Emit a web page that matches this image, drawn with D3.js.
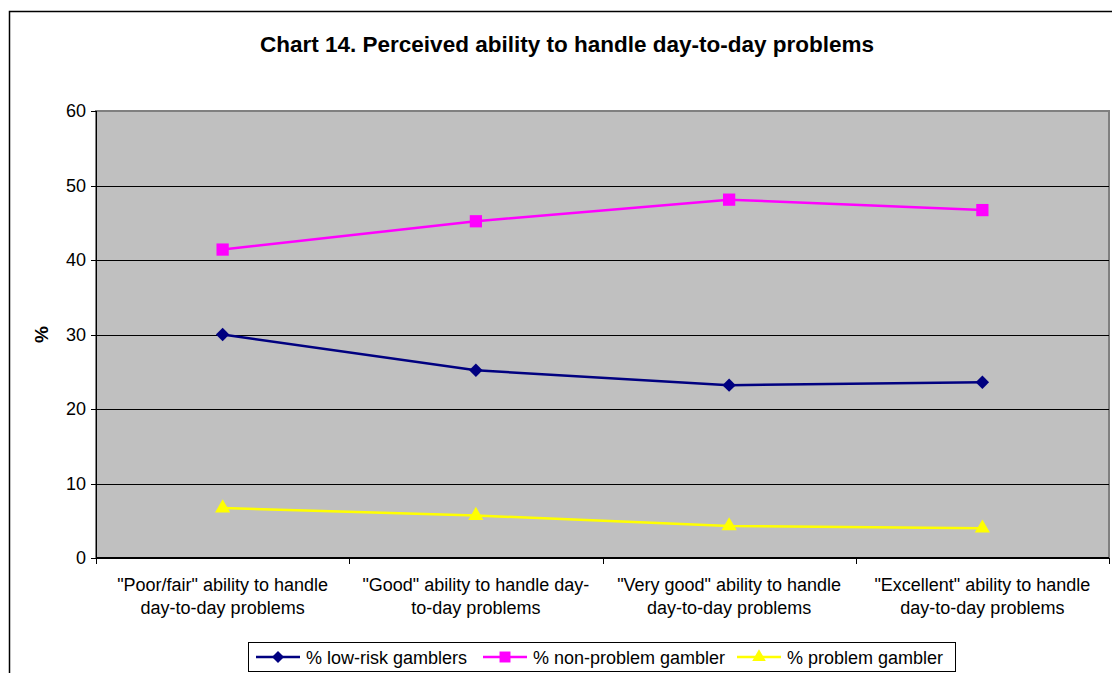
<!DOCTYPE html>
<html lang="en">
<head>
<meta charset="utf-8">
<title>Chart 14</title>
<script src="https://cdnjs.cloudflare.com/ajax/libs/d3/7.8.5/d3.min.js"></script>
<style>
  body { margin: 0; background: #fff; }
  text { font-family: "Liberation Sans", Arial, sans-serif; }
  .axis path, .axis line { stroke: #000; shape-rendering: crispEdges; }
  .axis text { fill: #000; }
</style>
</head>
<body>
<div id="chart"></div>
<script>
var categories = [
  ["\"Poor/fair\" ability to handle", "day-to-day problems"],
  ["\"Good\" ability to handle day-", "to-day problems"],
  ["\"Very good\" ability to handle", "day-to-day problems"],
  ["\"Excellent\" ability to handle", "day-to-day problems"]
];
var lowRisk = [30.0, 25.2, 23.2, 23.6];
var nonProblem = [41.4, 45.2, 48.1, 46.7];
var problem = [6.7, 5.7, 4.3, 4.0];
var yTicks = [0, 10, 20, 30, 40, 50, 60];

var series = [
  {name: "% low-risk gamblers", values: lowRisk, color: "#000080", shape: d3.symbolSquare, size: 90, rot: 45},
  {name: "% non-problem gambler", values: nonProblem, color: "#FF00FF", shape: d3.symbolSquare, size: 150, rot: 0},
  {name: "% problem gambler", values: problem, color: "#FFFF00", shape: d3.symbolTriangle, size: 100, rot: 0}
];

var W = 1112, H = 673;
var pLeft = 96, pRight = 1109, pTop = 111, pBottom = 558;
var fontSize = "18px";

var svg = d3.select("#chart").append("svg")
  .attr("width", W).attr("height", H);

// chart area border
svg.append("rect")
  .attr("x", 9.5).attr("y", 11.5)
  .attr("width", W).attr("height", H)
  .attr("fill", "#fff").attr("stroke", "#000").attr("stroke-width", 1.5);

svg.append("text")
  .attr("x", 567).attr("y", 52)
  .attr("text-anchor", "middle")
  .attr("font-size", "22.5px").attr("font-weight", "bold")
  .text("Chart 14. Perceived ability to handle day-to-day problems");

var x = d3.scaleBand().domain(d3.range(categories.length)).range([pLeft, pRight]);
var y = d3.scaleLinear().domain([0, 60]).range([pBottom, pTop]);

// plot area
svg.append("rect")
  .attr("x", pLeft).attr("y", pTop)
  .attr("width", pRight - pLeft).attr("height", pBottom - pTop)
  .attr("fill", "#C0C0C0").attr("stroke", "#808080").attr("stroke-width", 2);

svg.append("g").selectAll("line")
  .data(yTicks.filter(function(d){ return d > 0 && d < 60; }))
  .enter().append("line")
  .attr("x1", pLeft).attr("x2", pRight)
  .attr("y1", function(d){ return Math.round(y(d)) + 0.5; })
  .attr("y2", function(d){ return Math.round(y(d)) + 0.5; })
  .attr("stroke", "#000").attr("stroke-width", 1);

var yAxis = svg.append("g").attr("class", "axis")
  .attr("transform", "translate(" + pLeft + ",0)")
  .call(d3.axisLeft(y).tickValues(yTicks).tickSize(5).tickPadding(5));
yAxis.selectAll("text").attr("font-size", fontSize).attr("font-family", "Liberation Sans, Arial, sans-serif");
yAxis.select(".domain").attr("stroke-width", 1.5);

var xAxis = svg.append("g").attr("class", "axis")
  .attr("transform", "translate(0," + pBottom + ")");
xAxis.append("line").attr("x1", pLeft).attr("x2", pRight).attr("stroke", "#000").attr("stroke-width", 2);
xAxis.selectAll(".tk")
  .data(d3.range(categories.length + 1))
  .enter().append("line")
  .attr("x1", function(i){ return Math.round(pLeft + i * x.bandwidth()) + 0.5; })
  .attr("x2", function(i){ return Math.round(pLeft + i * x.bandwidth()) + 0.5; })
  .attr("y1", 0).attr("y2", 6).attr("stroke", "#000");
xAxis.selectAll(".lbl")
  .data(categories)
  .enter().append("text")
  .attr("text-anchor", "middle")
  .attr("font-size", fontSize)
  .attr("x", function(d, i){ return x(i) + x.bandwidth() / 2; })
  .attr("y", 33)
  .selectAll("tspan")
  .data(function(d){ return d; })
  .enter().append("tspan")
  .attr("x", function(){ return this.parentNode.getAttribute("x"); })
  .attr("dy", function(d, i){ return i === 0 ? 0 : 23; })
  .text(function(d){ return d; });

svg.append("text")
  .attr("transform", "translate(48," + ((pTop + pBottom) / 2) + ") rotate(-90)")
  .attr("text-anchor", "middle")
  .attr("font-size", "19px").attr("font-weight", "bold")
  .text("%");

var line = d3.line()
  .x(function(d, i){ return x(i) + x.bandwidth() / 2; })
  .y(function(d){ return y(d); });

series.forEach(function(s){
  svg.append("path")
    .attr("d", line(s.values))
    .attr("fill", "none").attr("stroke", s.color).attr("stroke-width", 2.5);
  svg.selectAll(null)
    .data(s.values)
    .enter().append("path")
    .attr("d", d3.symbol().type(s.shape).size(s.size))
    .attr("transform", function(d, i){
      return "translate(" + (x(i) + x.bandwidth() / 2) + "," + y(d) + ") rotate(" + s.rot + ")";
    })
    .attr("fill", s.color);
});

// legend
var lg = svg.append("g");
lg.append("rect")
  .attr("x", 248.5).attr("y", 642.5).attr("width", 707).attr("height", 29)
  .attr("fill", "#fff").attr("stroke", "#000").attr("stroke-width", 1);
var lgX = [256, 483, 737];
series.forEach(function(s, i){
  var g = lg.append("g").attr("transform", "translate(" + lgX[i] + ",657)");
  g.append("line").attr("x1", 0).attr("x2", 44).attr("stroke", s.color).attr("stroke-width", 2.5);
  g.append("path").attr("d", d3.symbol().type(s.shape).size(s.size * 0.8))
    .attr("transform", "translate(22,0) rotate(" + s.rot + ")").attr("fill", s.color);
  g.append("text").attr("x", 50).attr("y", 6.5).attr("font-size", fontSize).text(s.name);
});
</script>
</body>
</html>
